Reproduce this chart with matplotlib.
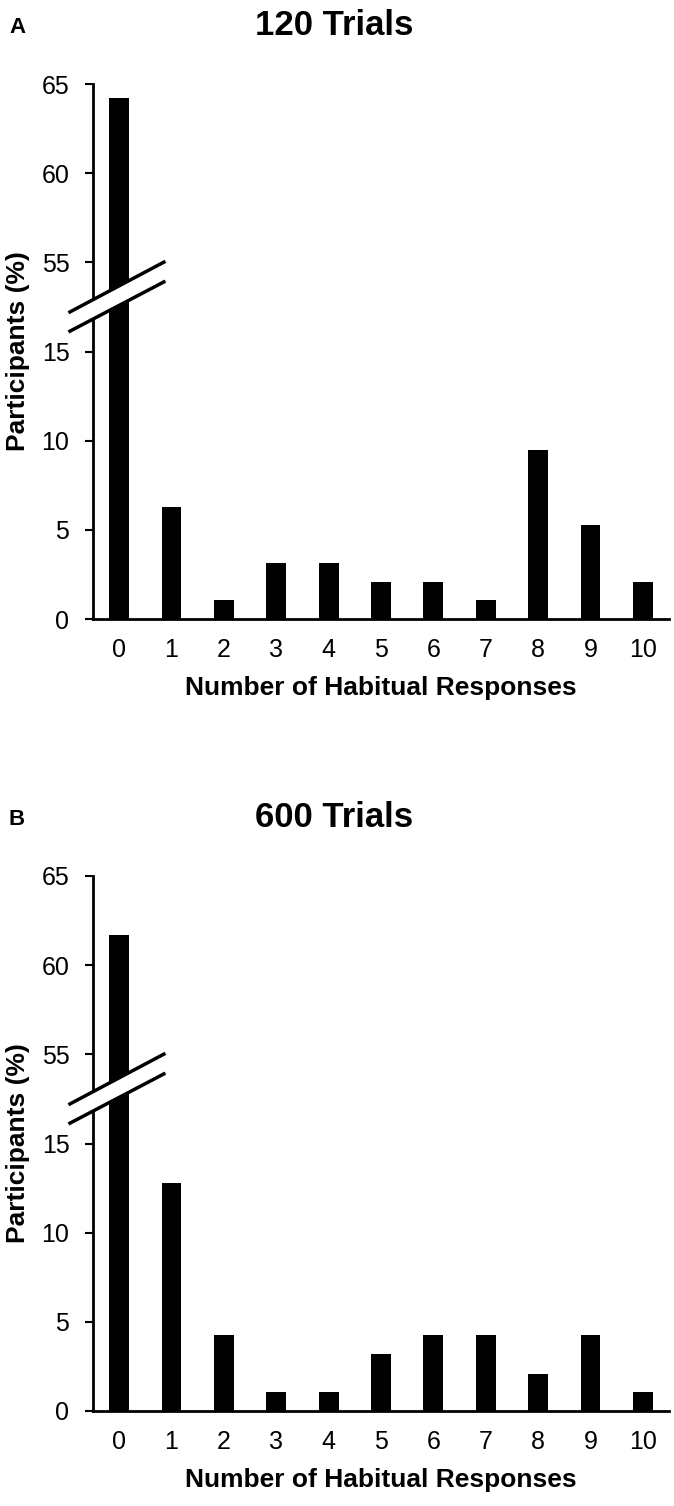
import numpy as np
import matplotlib
matplotlib.use("Agg")
import matplotlib.pyplot as plt
from matplotlib.patches import Polygon
from matplotlib.lines import Line2D

plt.rcParams['font.family'] = ['Liberation Sans', 'DejaVu Sans']

# data (percent of participants)
responses = list(range(11))
trials_120 = [64.2, 6.3, 1.05, 3.15, 3.15, 2.1, 2.1, 1.05, 9.5, 5.25, 2.1]
trials_600 = [61.7, 12.8, 4.25, 1.05, 1.05, 3.2, 4.25, 4.25, 2.1, 4.25, 1.05]
y_ticks = [0, 5, 10, 15, 55, 60, 65]
panel_titles = ["120 Trials", "600 Trials"]
panel_letters = ["A", "B"]


# broken axis: 15..55 squeezed into one tick interval
def forward(v):
    v = np.asarray(v, dtype=float)
    return np.where(v <= 15, v, np.where(v >= 55, v - 35, 15 + (v - 15) * 0.125))


def inverse(u):
    u = np.asarray(u, dtype=float)
    return np.where(u <= 15, u, np.where(u >= 20, u + 35, 15 + (u - 15) * 8))


def draw_panel(fig, rect, values, title, letter):
    ax = fig.add_axes(rect)
    ax.set_yscale('function', functions=(forward, inverse))
    ax.bar(responses, values, width=0.38, color='black')
    ax.set_xlim(-0.5, 10.5)
    ax.set_ylim(0, 65)
    ax.set_yticks(y_ticks)
    ax.set_xticks(responses)
    ax.spines['top'].set_visible(False)
    ax.spines['right'].set_visible(False)
    ax.spines['left'].set_linewidth(2)
    ax.spines['bottom'].set_linewidth(2)
    ax.tick_params(axis='y', length=6, width=1.5, pad=11, labelsize=18)
    ax.tick_params(axis='x', length=0, pad=14, labelsize=18)
    ax.set_xlabel('Number of Habitual Responses', fontsize=19, fontweight='bold', labelpad=10)

    # break mark
    x0, x1 = -0.04, 0.123
    up = (0.574, 0.667)
    lo = (0.538, 0.630)
    ax.add_patch(Polygon([(x0, up[0]), (x1, up[1]), (x1, lo[1]), (x0, lo[0])],
                         closed=True, transform=ax.transAxes, facecolor='white',
                         edgecolor='none', clip_on=False, zorder=5))
    for yy in (up, lo):
        ax.add_line(Line2D([x0, x1], yy, transform=ax.transAxes, color='black',
                           lw=2.5, clip_on=False, zorder=6))

    top = rect[1] + rect[3]
    fig.text(0.496, top + 49 / 1506, title, ha='center', va='baseline',
             fontsize=25, fontweight='bold')
    fig.text(9 / 674, top + 51 / 1506, letter, ha='left', va='baseline',
             fontsize=16, fontweight='bold')
    fig.text(18 / 674, rect[1] + rect[3] / 2, 'Participants (%)', rotation=90,
             ha='center', va='center', fontsize=19, fontweight='bold')
    return ax


fig = plt.figure(figsize=(6.74, 15.06), dpi=100)
left = 93 / 674
width = 576 / 674
height = 535 / 1506
draw_panel(fig, [left, 1 - 619 / 1506, width, height], trials_120, panel_titles[0], panel_letters[0])
draw_panel(fig, [left, 1 - 1411 / 1506, width, height], trials_600, panel_titles[1], panel_letters[1])

fig.savefig('out.png', dpi=100)
